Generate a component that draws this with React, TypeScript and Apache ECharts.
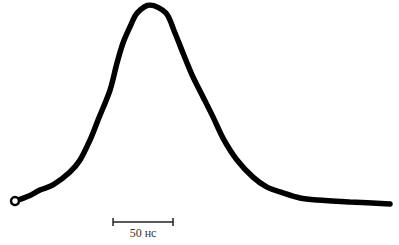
import React, { useEffect, useRef } from "react";
import * as echarts from "echarts";

// Time in ns from start of the trace, amplitude in arbitrary units (peak = 1)
const timeNs = [0, 12.5, 20.8, 31.7, 45.8, 54.2, 62.5, 69.2, 79.2, 85, 90, 95.8, 101.7, 112.5, 125.8, 133.3, 140, 148.3, 156.7, 165, 173.3, 185, 198.3, 210, 223.3, 237.5, 251.7, 279.2, 312.5];
const amplitude = [0, 0.028, 0.056, 0.082, 0.148, 0.209, 0.311, 0.413, 0.566, 0.704, 0.806, 0.888, 0.959, 1.0, 0.959, 0.857, 0.755, 0.633, 0.531, 0.429, 0.321, 0.209, 0.122, 0.071, 0.041, 0.015, 0.005, -0.005, -0.015];

// Scale bar: 50 ns
const scaleBarNs = [81.7, 131.7];
const scaleBarLevel = -0.107;
const scaleBarLabel = "50 нс";

export default function App() {
  const ref = useRef<HTMLDivElement>(null);
  useEffect(() => {
    if (!ref.current) return;
    const chart = echarts.init(ref.current, null, { renderer: "svg" });
    const trace = timeNs.map((t, i) =>
      i === 0
        ? {
            value: [t, amplitude[i]],
            symbol: "circle",
            symbolSize: 8,
            itemStyle: { color: "#fff", borderColor: "#000", borderWidth: 2.5 },
          }
        : { value: [t, amplitude[i]], symbol: "none" }
    );
    chart.setOption({
      animation: false,
      backgroundColor: "#fff",
      grid: { left: 15, right: 9, top: 5, bottom: 4.8 },
      xAxis: { type: "value", min: 0, max: 312.5, show: false },
      yAxis: { type: "value", min: -0.2, max: 1.0, show: false },
      series: [
        {
          type: "line",
          data: trace,
          smooth: 0.3,
          showSymbol: true,
          lineStyle: { color: "#000", width: 5.5, cap: "round" },
          z: 2,
        },
        {
          type: "line",
          data: scaleBarNs.map((t) => [t, scaleBarLevel]),
          symbol: "rect",
          symbolSize: [1.5, 8],
          itemStyle: { color: "#222" },
          lineStyle: { color: "#222", width: 1.5 },
        },
      ],
      graphic: [
        {
          type: "text",
          x: 143,
          y: 233,
          style: {
            text: scaleBarLabel,
            fill: "#333",
            font: "12px 'Liberation Serif', serif",
            textAlign: "center",
            textVerticalAlign: "middle",
          },
        },
      ],
    });
    return () => chart.dispose();
  }, []);
  return (
    <div
      ref={ref}
      style={{ position: "fixed", left: 0, top: 0, width: 399, height: 245 }}
    />
  );
}
